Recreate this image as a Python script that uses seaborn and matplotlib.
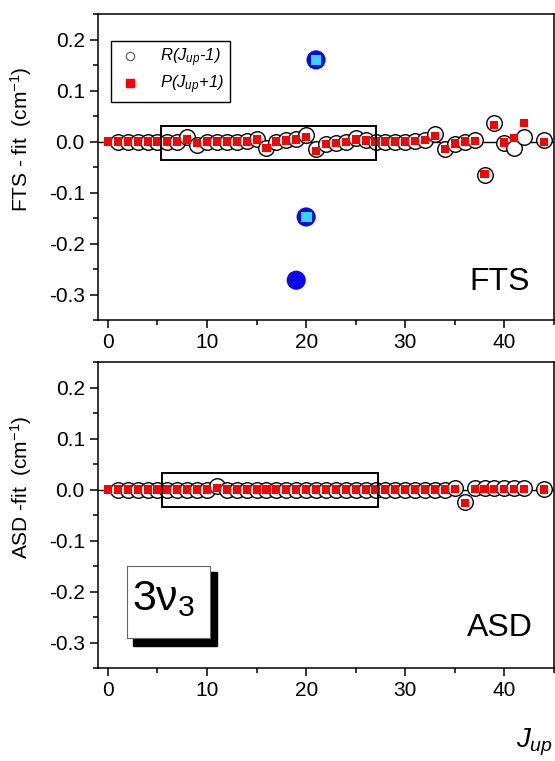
# ==============================================================
# Residuals of the 3nu3 band fit: FTS (top) and ASD (bottom)
# ==============================================================

import numpy as np
import pandas as pd
import matplotlib
matplotlib.use("Agg")
import matplotlib.pyplot as plt
from matplotlib.lines import Line2D
from matplotlib.patches import Rectangle
import seaborn as sns

# ==============================================================
# 1) Data (read off the reference)
# ==============================================================
J_R = [1, 2, 3, 4, 5, 6, 7, 8, 9, 10, 11, 12, 13, 14, 15, 16, 17, 18, 19, 20, 21,
       22, 23, 24, 25, 26, 27, 28, 29, 30, 31, 32, 33, 34, 35, 36, 37, 38, 39, 40,
       41, 42, 44]
J_P = [0, 1, 2, 3, 4, 5, 6, 7, 8, 9, 10, 11, 12, 13, 14, 15, 16, 17, 18, 19, 20, 21,
       22, 23, 24, 25, 26, 27, 28, 29, 30, 31, 32, 33, 34, 35, 36, 37, 38, 39, 40,
       41, 42, 44]

fts_R = [0.0, 0.0, 0.0, 0.0, 0.0, 0.0, 0.0, 0.008, -0.006, 0.0, 0.0, 0.0, 0.0, 0.001,
         0.004, -0.012, 0.0, 0.002, 0.005, 0.012, -0.014, -0.004, -0.002, 0.0, 0.007,
         0.002, 0.0, 0.0, 0.0, 0.0, 0.001, 0.003, 0.014, -0.014, -0.004, 0.0, 0.002,
         -0.066, 0.037, -0.003, -0.013, 0.008, 0.002]
fts_P = [0.0, 0.0, 0.0, 0.0, 0.0, 0.0, 0.0, 0.0, 0.004, -0.003, 0.0, 0.0, 0.0, 0.0, 0.0,
         0.004, -0.013, 0.0, 0.002, 0.004, 0.008, -0.018, -0.005, -0.003, -0.001, 0.004,
         0.002, 0.0, 0.0, 0.0, 0.0, 0.001, 0.003, 0.011, -0.015, -0.004, 0.0, 0.001,
         -0.064, 0.033, -0.002, 0.006, 0.037, -0.001]

# excluded lines (FTS only)
out_R_J = [19, 20, 21]
out_R = [-0.272, -0.148, 0.160]
out_P_J = [20, 21]
out_P = [-0.148, 0.160]

asd_R = [0.0, 0.0, 0.0, 0.0, 0.0, 0.0, 0.0, 0.0, 0.0, 0.0, 0.006, 0.0, 0.0, 0.0, 0.0,
         0.0, 0.0, 0.0, 0.0, 0.0, 0.0, 0.0, 0.0, 0.0, 0.0, 0.0, 0.0, 0.0, 0.0, 0.0, 0.0,
         0.0, 0.0, 0.0, 0.002, -0.024, 0.002, 0.002, 0.002, 0.002, 0.002, 0.002, 0.001]
asd_P = [0.0, 0.0, 0.0, 0.0, 0.0, 0.0, 0.0, 0.0, 0.0, 0.0, 0.0, 0.003, 0.0, 0.0, 0.0,
         0.0, 0.0, 0.0, 0.0, 0.0, 0.0, 0.0, 0.0, 0.0, 0.0, 0.0, 0.0, 0.0, 0.0, 0.0, 0.0,
         0.0, 0.0, 0.0, 0.0, 0.001, -0.026, 0.001, 0.001, 0.001, 0.001, 0.001, 0.001, 0.0]

# highlighted J range (x0, x1, y0, y1)
box_fts = (5.4, 27.1, -0.036, 0.031)
box_asd = (5.5, 27.3, -0.034, 0.032)

# ==============================================================
# 2) Style
# ==============================================================
sns.set_theme(style="ticks")
plt.rcParams["font.family"] = ["Liberation Sans", "DejaVu Sans"]
plt.rcParams["mathtext.fontset"] = "custom"
plt.rcParams["mathtext.rm"] = "Liberation Sans"
plt.rcParams["mathtext.it"] = "Liberation Sans:italic"
plt.rcParams["axes.linewidth"] = 1.1
plt.rcParams["axes.edgecolor"] = "black"
plt.rcParams["text.color"] = "black"
plt.rcParams["axes.labelcolor"] = "black"

RED = "#ff0000"
BLUE = "#0a0ae6"
CYAN = "#33d6f5"

fig = plt.figure(figsize=(5.55, 7.61), dpi=100)
ax1 = fig.add_axes([0.1766, 0.5795, 0.8214, 0.4021])
ax2 = fig.add_axes([0.1766, 0.1222, 0.8214, 0.4021])


def draw_panel(ax, yR, yP, box):
    ax.axhline(0, color="black", lw=1.0, zorder=1)
    sns.scatterplot(x=J_R, y=yR, ax=ax, marker="o", s=125, color="white",
                    edgecolor="black", linewidth=1.0, zorder=3, legend=False)
    sns.scatterplot(x=J_P, y=yP, ax=ax, marker="s", s=34, color=RED,
                    edgecolor="none", linewidth=0, zorder=4, legend=False)
    x0, x1, y0, y1 = box
    ax.add_patch(Rectangle((x0, y0), x1 - x0, y1 - y0, fill=False,
                           edgecolor="black", lw=1.4, zorder=5))
    ax.set_xlim(-1, 44.9)
    ax.set_ylim(-0.35, 0.25)
    ax.set_xticks([0, 10, 20, 30, 40])
    ax.set_xticks([5, 15, 25, 35, 45], minor=True)
    ax.set_yticks([-0.3, -0.2, -0.1, 0.0, 0.1, 0.2])
    ax.set_yticks([-0.35, -0.25, -0.15, -0.05, 0.05, 0.15, 0.25], minor=True)
    ax.yaxis.set_major_formatter(matplotlib.ticker.FormatStrFormatter("%.1f"))
    ax.tick_params(which="major", direction="out", length=6, width=1.1,
                   labelsize=15, colors="black", top=False, right=False)
    ax.tick_params(which="minor", direction="out", length=3.5, width=1.1,
                   colors="black", top=False, right=False)
    for sp in ax.spines.values():
        sp.set_visible(True)
        sp.set_color("black")
    ax.set_xlabel("")


# ==============================================================
# 3) Top panel: FTS
# ==============================================================
draw_panel(ax1, fts_R, fts_P, box_fts)
sns.scatterplot(x=out_R_J, y=out_R, ax=ax1, marker="o", s=190, color=BLUE,
                edgecolor="none", zorder=6, legend=False)
sns.scatterplot(x=out_P_J, y=out_P, ax=ax1, marker="s", s=60, color=CYAN,
                edgecolor="none", zorder=7, legend=False)
ax1.set_ylabel("FTS - fit  (cm$^{-1}$)", fontsize=15)
ax1.yaxis.set_label_coords(-0.14, 0.59)
ax1.text(0.947, 0.098, "FTS", transform=ax1.transAxes, ha="right",
         va="baseline", fontsize=23)

handles = [
    Line2D([], [], ls="none", marker="o", markersize=6, mfc="white",
           mec="#555555", mew=0.8),
    Line2D([], [], ls="none", marker="s", markersize=5.5, mfc=RED, mec=RED),
]
labels = ["R($J_{up}$-1)", "P($J_{up}$+1)"]
leg = ax1.legend(handles, labels, loc="upper left", bbox_to_anchor=(0.0285, 0.912),
                 borderaxespad=0, frameon=True, fancybox=False, framealpha=1,
                 edgecolor="black", prop={"style": "italic", "size": 12},
                 handletextpad=1.0, borderpad=0.35, labelspacing=0.25,
                 handlelength=1.6)
leg.get_frame().set_linewidth(1.0)

# ==============================================================
# 4) Bottom panel: ASD
# ==============================================================
draw_panel(ax2, asd_R, asd_P, box_asd)
ax2.set_ylabel("ASD -fit  (cm$^{-1}$)", fontsize=15)
ax2.yaxis.set_label_coords(-0.14, 0.59)
ax2.text(0.954, 0.105, "ASD", transform=ax2.transAxes, ha="right",
         va="baseline", fontsize=23)

# 3nu3 label box with drop shadow
ax2.add_patch(Rectangle((0.0768, 0.072), 0.184, 0.242, transform=ax2.transAxes,
                        facecolor="black", edgecolor="black", zorder=8))
ax2.add_patch(Rectangle((0.0636, 0.098), 0.182, 0.235, transform=ax2.transAxes,
                        facecolor="white", edgecolor="#666666", lw=0.8, zorder=9))
ax2.text(0.074, 0.19, r"3$\mathrm{\nu}_3$", transform=ax2.transAxes, ha="left",
         va="baseline", fontsize=31, zorder=10)

fig.text(0.93, 0.018, r"$J_{up}$", ha="left", va="baseline", fontsize=20)

fig.savefig("out.png", dpi=100)
plt.close(fig)
